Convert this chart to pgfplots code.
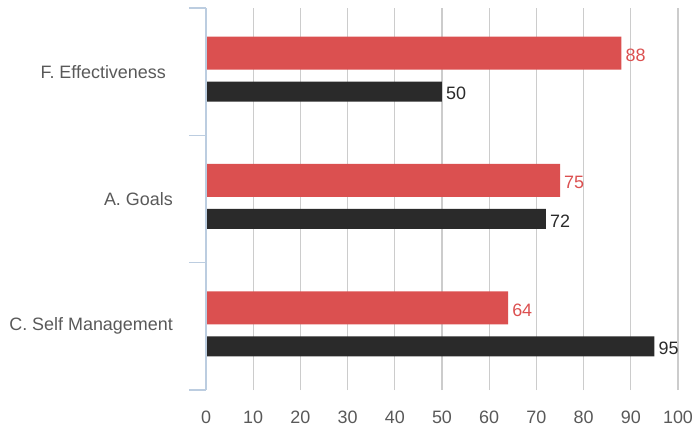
\documentclass[border=0pt]{standalone}
\usepackage{fontspec}
\setmainfont{Liberation Sans}
\usepackage{pgfplots}
\pgfplotsset{compat=1.18}
\definecolor{barred}{HTML}{DB5050}
\definecolor{bardark}{HTML}{2A2A2A}
\definecolor{axblue}{HTML}{BCCDE0}
\definecolor{txtgray}{HTML}{595959}
\definecolor{gridgray}{HTML}{CCCCCC}
\begin{document}
\begin{tikzpicture}
\useasboundingbox (-206bp,-39bp) rectangle (488bp,390bp);
\begin{axis}[
  at={(0,0)}, anchor=south west,
  scale only axis, width=472bp, height=382bp,
  xbar, xmin=0, xmax=100, ymin=-0.5, ymax=2.5,
  xtick={0,10,...,100},
  ytick={0,1,2},
  yticklabels={C. Self Management, A. Goals, {F. Effectiveness\hspace*{7bp}}},
  minor ytick={-0.5,0.5,1.5,2.5},
  tick pos=left,
  axis line style={draw=none},
  xtick style={draw=none},
  major tick length=0pt,
  minor tick length=17bp,
  tick align=outside,
  minor tick style={draw=axblue, line width=1.3bp},
  xmajorgrids, ymajorgrids=false,
  major grid style={draw=gridgray, line width=1.3bp},
  /pgf/number format/assume math mode=true,
  every tick label/.append style={font=\fontsize{18}{20}\selectfont, text=txtgray},
  yticklabel style={anchor=east, inner sep=0pt, xshift=-33bp},
  xticklabel style={anchor=north, inner sep=0pt, yshift=-21bp},
  clip=false,
]
\addplot[fill=barred, draw=none, bar width=33bp, bar shift=18.5bp,
  nodes near coords,
  nodes near coords style={font=\fontsize{18}{20}\selectfont, text=barred, anchor=west, inner sep=0pt, xshift=4bp, yshift=-2bp}]
  coordinates {(64,0) (75,1) (88,2)};
\addplot[fill=bardark, draw=none, bar width=20bp, bar shift=-20bp,
  nodes near coords,
  nodes near coords style={font=\fontsize{18}{20}\selectfont, text=bardark, anchor=west, inner sep=0pt, xshift=4bp, yshift=-2bp}]
  coordinates {(95,0) (72,1) (50,2)};
\draw[axblue, line width=1.3bp] (axis cs:0,-0.5) -- (axis cs:0,2.5);
\end{axis}
\end{tikzpicture}
\end{document}
